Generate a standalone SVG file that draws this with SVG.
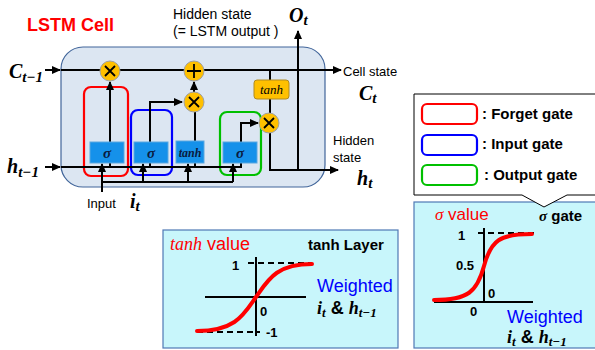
<svg xmlns="http://www.w3.org/2000/svg" width="595" height="350" viewBox="0 0 595 350">
<defs>
<marker id="arr" markerUnits="userSpaceOnUse" markerWidth="9" markerHeight="8" refX="8" refY="4" orient="auto">
<path d="M0,0 L9,4 L0,8 z" fill="#000"/>
</marker>
<style>
.ln{fill:none;stroke:#000;stroke-width:2}
.op{fill:#ffc000;stroke:#a0a0a0;stroke-width:1}
.sym{fill:none;stroke:#000;stroke-width:1.8}
.gb{fill:#1591ea;stroke:#5aa7e0;stroke-width:1}
.sig{font-family:"Liberation Serif","DejaVu Serif",serif;font-weight:bold;font-style:italic;fill:#0a1a40}
.math{font-family:"Liberation Serif","DejaVu Serif",serif;font-weight:bold;font-style:italic;fill:#000}
.sans{font-family:"Liberation Sans",Arial,sans-serif}
.b{font-weight:bold}
.dash{fill:none;stroke:#000;stroke-width:2;stroke-dasharray:6 4}
.axis{fill:none;stroke:#000;stroke-width:2}
.curve{fill:none;stroke:#ff0000;stroke-width:4;stroke-linecap:round}
.panel{fill:#c8f6fb;stroke:#4f79b5;stroke-width:1.2}
.gate{fill:none;stroke-width:2.2}
</style>
</defs>
<rect width="595" height="350" fill="#fff"/>

<text x="27" y="31" class="sans b" font-size="18" fill="#ff0000">LSTM Cell</text>
<text x="173" y="19" class="sans" font-size="14" fill="#000">Hidden state</text>
<text x="173" y="36" class="sans" font-size="14" fill="#000">(= LSTM output )</text>

<g id="cell">
<rect x="61" y="47" width="264" height="140" rx="22" fill="#dce6f2" stroke="#41659a" stroke-width="1.2"/>
</g>

<g id="gate-boxes">
<rect x="84" y="87" width="44" height="89" rx="7" class="gate" stroke="#ff0000"/>
<rect x="131" y="110" width="41" height="65" rx="7" class="gate" stroke="#0000ff"/>
<rect x="220" y="112" width="41" height="63" rx="7" class="gate" stroke="#00c000"/>
</g>

<g id="connectors">
<line x1="45" y1="70" x2="60" y2="70" class="ln" marker-end="url(#arr)"/>
<line x1="61" y1="70" x2="341" y2="70" class="ln" marker-end="url(#arr)"/>
<line x1="45" y1="167" x2="60" y2="167" class="ln" marker-end="url(#arr)"/>
<polyline points="61,167 241,167 241,123 258,123" class="ln" marker-end="url(#arr)"/>
<line x1="110" y1="167" x2="110" y2="82" class="ln" marker-end="url(#arr)"/>
<polyline points="150,167 150,102 182,102" class="ln" marker-end="url(#arr)"/>
<line x1="195" y1="167" x2="195" y2="112" class="ln"/>
<line x1="194" y1="92" x2="194" y2="82" class="ln" marker-end="url(#arr)"/>
<line x1="102" y1="192" x2="102" y2="164" class="ln" marker-end="url(#arr)"/>
<polyline points="102,182 233,182" class="ln"/>
<line x1="143" y1="182" x2="143" y2="164" class="ln" marker-end="url(#arr)"/>
<line x1="188" y1="182" x2="188" y2="164" class="ln" marker-end="url(#arr)"/>
<line x1="233" y1="182" x2="233" y2="164" class="ln" marker-end="url(#arr)"/>
<line x1="270" y1="70" x2="270" y2="113" class="ln"/>
<polyline points="270,133 270,170 338,170" class="ln" marker-end="url(#arr)"/>
<line x1="298" y1="170" x2="298" y2="31" class="ln" marker-end="url(#arr)"/>
</g>

<g id="forget-sigma">
<rect x="90" y="142" width="34" height="21" class="gb"/>
<text x="107" y="158" class="sig" font-size="15" text-anchor="middle">σ</text>
</g>
<g id="input-sigma">
<rect x="134" y="142" width="34" height="21" class="gb"/>
<text x="151" y="158" class="sig" font-size="15" text-anchor="middle">σ</text>
</g>
<g id="tanh-layer">
<rect x="176" y="141" width="28" height="22" class="gb"/>
<text x="190" y="157" class="sig" font-size="12" text-anchor="middle">tanh</text>
</g>
<g id="output-sigma">
<rect x="223" y="142" width="34" height="21" class="gb"/>
<text x="240" y="158" class="sig" font-size="15" text-anchor="middle">σ</text>
</g>
<g id="tanh-out">
<rect x="254" y="80" width="35" height="19" rx="3" fill="#ffc000" stroke="#b08a20" stroke-width="1"/>
<text x="271.5" y="94" font-family="Liberation Serif,DejaVu Serif,serif" font-style="italic" font-size="13" text-anchor="middle" fill="#000">tanh</text>
</g>

<g id="mul-forget">
<circle cx="110" cy="71" r="10" class="op"/>
<path d="M105,66 L115,76 M115,66 L105,76" class="sym"/>
</g>
<g id="add-cell">
<circle cx="194" cy="71" r="10" class="op"/>
<path d="M194,64 L194,78 M187,71 L201,71" class="sym"/>
</g>
<g id="mul-input">
<circle cx="194" cy="102" r="10" class="op"/>
<path d="M189,97 L199,107 M199,97 L189,107" class="sym"/>
</g>
<g id="mul-output">
<circle cx="269" cy="123" r="10" class="op"/>
<path d="M264,118 L274,128 M274,118 L264,128" class="sym"/>
</g>

<g id="labels">
<text x="9" y="78" class="math" font-size="20">C<tspan font-size="15" dy="4">t−1</tspan></text>
<text x="7" y="173" class="math" font-size="20">h<tspan font-size="15" dy="4">t−1</tspan></text>
<text x="289" y="22" class="math" font-size="20">O<tspan font-size="15" dy="3">t</tspan></text>
<text x="343" y="76" class="sans" font-size="13">Cell state</text>
<text x="359" y="100" class="math" font-size="20">C<tspan font-size="15" dy="3">t</tspan></text>
<text x="333" y="145" class="sans" font-size="13">Hidden</text>
<text x="333" y="162" class="sans" font-size="13">state</text>
<text x="357" y="185" class="math" font-size="20">h<tspan font-size="15" dy="3">t</tspan></text>
<text x="87" y="208" class="sans" font-size="13">Input</text>
<text x="130" y="208" class="math" font-size="20">i<tspan font-size="15" dy="3">t</tspan></text>
</g>

<g id="tanh-panel">
<rect x="163" y="230" width="235" height="118" class="panel"/>
<text x="170" y="250" font-size="18" fill="#ff0000"><tspan font-family="Liberation Serif,DejaVu Serif,serif" font-style="italic">tanh</tspan><tspan font-family="Liberation Sans,Arial,sans-serif"> value</tspan></text>
<text x="308" y="250" class="sans b" font-size="15">tanh Layer</text>
<line x1="248" y1="263" x2="312" y2="263" class="dash"/>
<line x1="197" y1="332" x2="260" y2="332" class="dash"/>
<line x1="256" y1="257" x2="256" y2="336" class="axis"/>
<line x1="205" y1="297" x2="306" y2="297" class="axis"/>
<path d="M197,331 C236,331 244,314 256,297 C268,280 276,264 312,264" class="curve"/>
<text x="232" y="270" class="sans b" font-size="13">1</text>
<text x="260" y="316" class="sans b" font-size="13">0</text>
<text x="266" y="337" class="sans b" font-size="13">-1</text>
<text x="317" y="292" class="sans" font-size="18" fill="#0000ff">Weighted</text>
<text x="317" y="314" class="math" font-size="18" fill="#0000ff">i<tspan font-size="13" dy="3">t</tspan><tspan dy="-3" font-family="Liberation Sans,Arial,sans-serif" font-style="normal"> &amp; </tspan>h<tspan font-size="13" dy="3">t−1</tspan></text>
</g>

<g id="sigma-panel">
<rect x="414" y="202" width="185" height="146" class="panel"/>
<text x="435" y="220" font-size="17" fill="#ff0000"><tspan font-family="Liberation Serif,DejaVu Serif,serif" font-style="italic">σ</tspan><tspan font-family="Liberation Sans,Arial,sans-serif"> value</tspan></text>
<text x="539" y="221" font-size="15" class="b"><tspan font-family="Liberation Serif,DejaVu Serif,serif" font-style="italic">σ</tspan><tspan font-family="Liberation Sans,Arial,sans-serif"> gate</tspan></text>
<line x1="478" y1="233" x2="535" y2="233" class="dash"/>
<line x1="484" y1="228" x2="484" y2="303" class="axis"/>
<line x1="434" y1="302" x2="533" y2="302" class="axis"/>
<path d="M434,300 C468,300 477,292 484,266 C491,240 500,234 532,234" class="curve"/>
<text x="458" y="240" class="sans b" font-size="13">1</text>
<text x="456" y="270" class="sans b" font-size="13">0.5</text>
<text x="488" y="298" class="sans b" font-size="13">0</text>
<text x="470" y="316" class="sans b" font-size="13">0</text>
<text x="507" y="323" class="sans" font-size="18" fill="#0000ff">Weighted</text>
<text x="507" y="343" class="math" font-size="18" fill="#0000ff">i<tspan font-size="13" dy="3">t</tspan><tspan dy="-3" font-family="Liberation Sans,Arial,sans-serif" font-style="normal"> &amp; </tspan>h<tspan font-size="13" dy="3">t−1</tspan></text>
</g>

<g id="legend">
<path d="M414,94 L600,94 L600,195 L567,195 L544,207 L522,195 L414,195 Z" fill="#fff" stroke="#000" stroke-width="1"/>
<rect x="422" y="104" width="55" height="20" rx="5" class="gate" stroke="#ff0000"/>
<rect x="422" y="135" width="55" height="20" rx="5" class="gate" stroke="#0000ff"/>
<rect x="422" y="165" width="55" height="20" rx="5" class="gate" stroke="#00c000"/>
<text x="482" y="119" class="sans b" font-size="15">: Forget gate</text>
<text x="482" y="149" class="sans b" font-size="15">: Input gate</text>
<text x="484" y="180" class="sans b" font-size="15">: Output gate</text>
</g>
</svg>
